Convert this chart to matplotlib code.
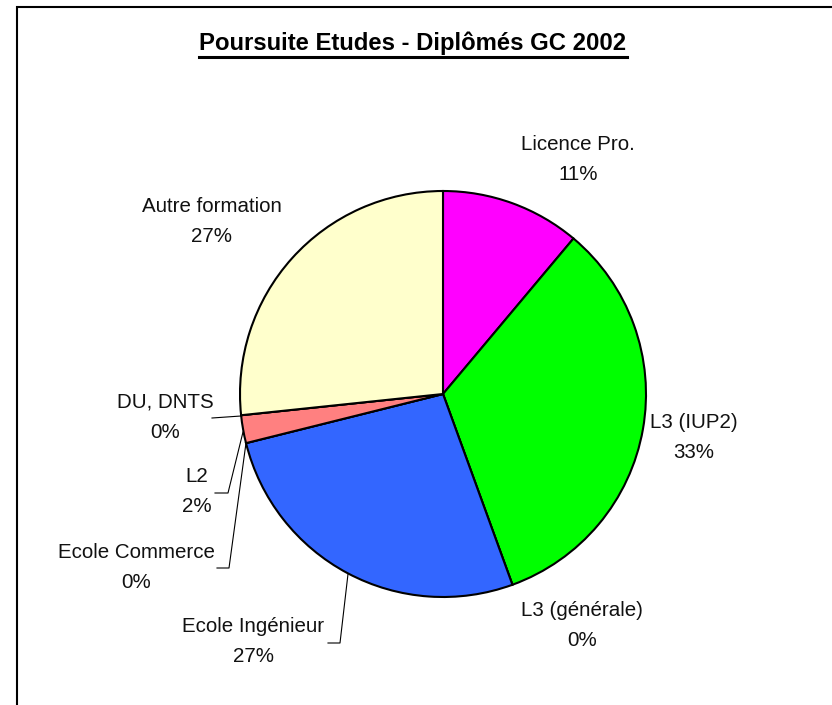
import matplotlib
matplotlib.use("Agg")
import matplotlib.pyplot as plt

# ---- data ----
categories = ["Licence Pro.", "L3 (IUP2)", "L3 (générale)", "Ecole Ingénieur",
              "Ecole Commerce", "L2", "DU, DNTS", "Autre formation"]
counts = [5, 15, 0, 12, 0, 1, 0, 12]
colors = ["#FF00FF", "#00FF00", "#FFFFFF", "#3366FF",
          "#FFFFFF", "#FF8080", "#FFFFFF", "#FFFFCC"]
title = "Poursuite Etudes - Diplômés GC 2002"

W, H = 832, 705
fig = plt.figure(figsize=(W / 100, H / 100), dpi=100)
ax = fig.add_axes([0, 0, 1, 1])

def Y(y):
    return H - y

cx, cy, R = 443, 394, 203
ax.pie(counts, colors=colors, startangle=90, counterclock=False,
       center=(cx, Y(cy)), radius=R, frame=True,
       wedgeprops=dict(edgecolor="black", linewidth=1.5))
ax.set_xlim(0, W)
ax.set_ylim(0, H)
ax.set_aspect("auto")
ax.axis("off")

# chart border (left and top)
ax.plot([17, 17, W + 5], [-5, Y(7), Y(7)], color="black", lw=1.5,
        solid_joinstyle="miter")

font = "Liberation Sans"
ax.text(413, Y(43), title, ha="center", va="center", fontsize=17.2,
        fontweight="bold", family=font)
ax.plot([199, 627], [Y(57), Y(57)], color="black", lw=2.2)

total = sum(counts)
pcts = [f"{round(c / total * 100)}%" for c in counts]

# label centre positions (pixels): name line y, pct line y
label_pos = [
    (578, 145), (694, 423), (582, 610), (253, 627),
    (136, 552), (197, 477), (165, 402), (212, 206),
]
for name, pct, (x, y) in zip(categories, pcts, label_pos):
    ax.text(x, Y(y), name, ha="center", va="center", fontsize=14.8,
            family=font, color="#111111")
    ax.text(x, Y(y + 30), pct, ha="center", va="center", fontsize=14.8,
            family=font, color="#111111")

# leader lines
leaders = [
    [(212, 418), (241, 416)],
    [(215, 493), (228, 493), (243, 432)],
    [(217, 568), (229, 568), (246, 443)],
    [(328, 643), (340, 643), (348, 574)],
]
for pts in leaders:
    xs = [p[0] for p in pts]
    ys = [Y(p[1]) for p in pts]
    ax.plot(xs, ys, color="black", lw=0.8)

fig.savefig("out.png", dpi=100, facecolor="white")
